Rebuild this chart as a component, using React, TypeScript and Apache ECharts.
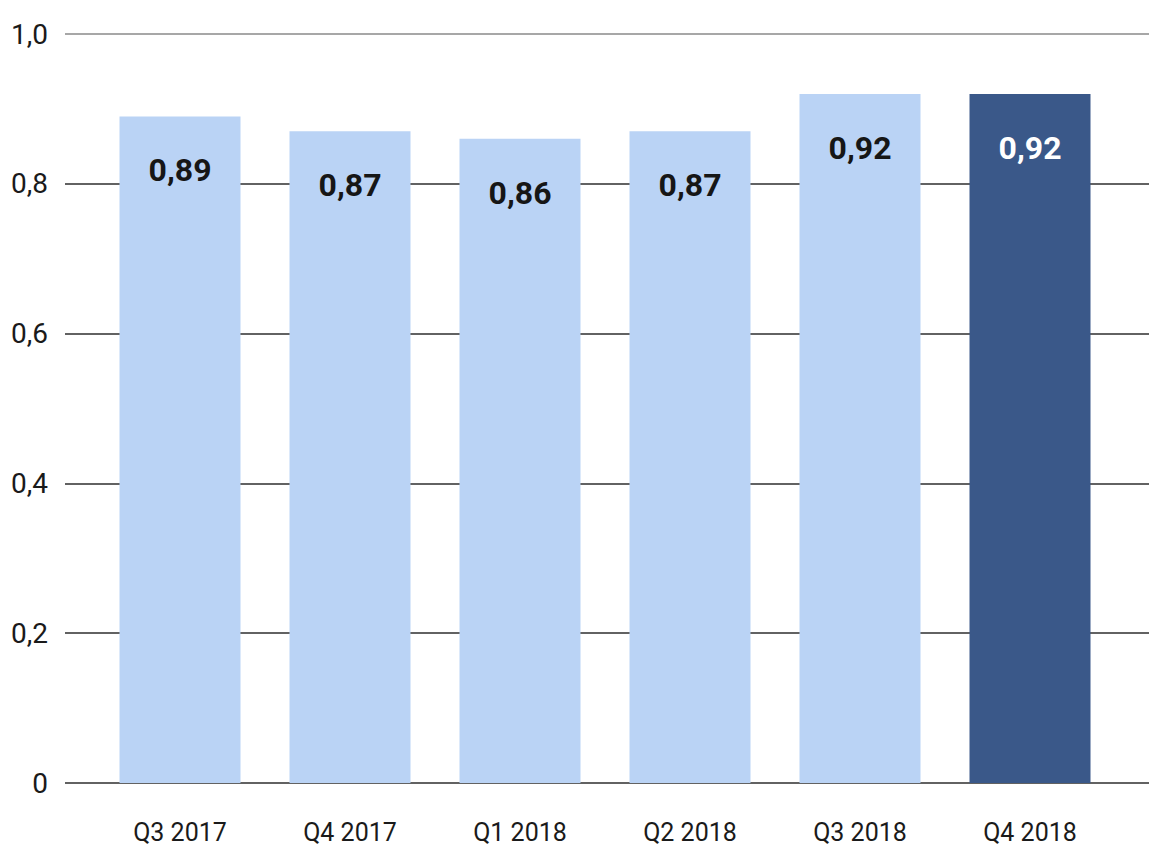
import React, { useEffect, useRef } from "react";
import * as echarts from "echarts";

const categories = ["Q3 2017", "Q4 2017", "Q1 2018", "Q2 2018", "Q3 2018", "Q4 2018"];
const values = [0.89, 0.87, 0.86, 0.87, 0.92, 0.92];
const barColors = ["#bad3f5", "#bad3f5", "#bad3f5", "#bad3f5", "#bad3f5", "#3a5889"];
const labelColors = ["#161616", "#161616", "#161616", "#161616", "#161616", "#ffffff"];
const yTicks = [0, 0.2, 0.4, 0.6, 0.8, 1.0];

const FONT = "Roboto, 'Liberation Sans', sans-serif";

export default function App() {
  const ref = useRef<HTMLDivElement>(null);
  useEffect(() => {
    document.body.style.margin = "0";
    const chart = echarts.init(ref.current!, undefined, { renderer: "svg" });
    const fmtY = (v: number) => (v === 0 ? "0" : v.toFixed(1).replace(".", ","));
    chart.setOption({
      animation: false,
      backgroundColor: "#ffffff",
      grid: [
        { left: 65, right: 0, top: 34, bottom: 71 },
        { left: 95, width: 1020, top: 34, bottom: 71 },
      ],
      xAxis: [
        { type: "value", gridIndex: 0, show: false, min: 0, max: 1 },
        {
          type: "category",
          gridIndex: 1,
          data: categories,
          axisLine: { show: false },
          axisTick: { show: false },
          axisLabel: { fontFamily: FONT, fontSize: 25, color: "#1a1a1a", margin: 37 },
        },
      ],
      yAxis: [
        {
          type: "value",
          gridIndex: 0,
          min: yTicks[0],
          max: yTicks[yTicks.length - 1],
          interval: 0.2,
          axisLine: { show: false },
          axisTick: { show: false },
          axisLabel: {
            fontFamily: FONT,
            fontSize: 28,
            color: "#1a1a1a",
            margin: 17,
            formatter: (v: number) => fmtY(v),
          },
          splitLine: {
            show: true,
            lineStyle: { color: ["#2e2e2e", "#2e2e2e", "#2e2e2e", "#2e2e2e", "#2e2e2e", "#8a8a8a"], width: 1.5 },
          },
        },
        { type: "value", gridIndex: 1, min: 0, max: 1, show: false },
      ],
      series: [
        {
          type: "bar",
          xAxisIndex: 1,
          yAxisIndex: 1,
          barWidth: 121,
          data: values.map((v, i) => ({
            value: v,
            itemStyle: { color: barColors[i] },
            label: { color: labelColors[i] },
          })),
          label: {
            show: true,
            position: "insideTop",
            distance: 38,
            fontFamily: FONT,
            fontWeight: "bold",
            fontSize: 32,
            formatter: (p: any) => p.value.toFixed(2).replace(".", ","),
          },
        },
      ],
    });
    return () => chart.dispose();
  }, []);
  return <div ref={ref} style={{ width: 1149, height: 854 }} />;
}
